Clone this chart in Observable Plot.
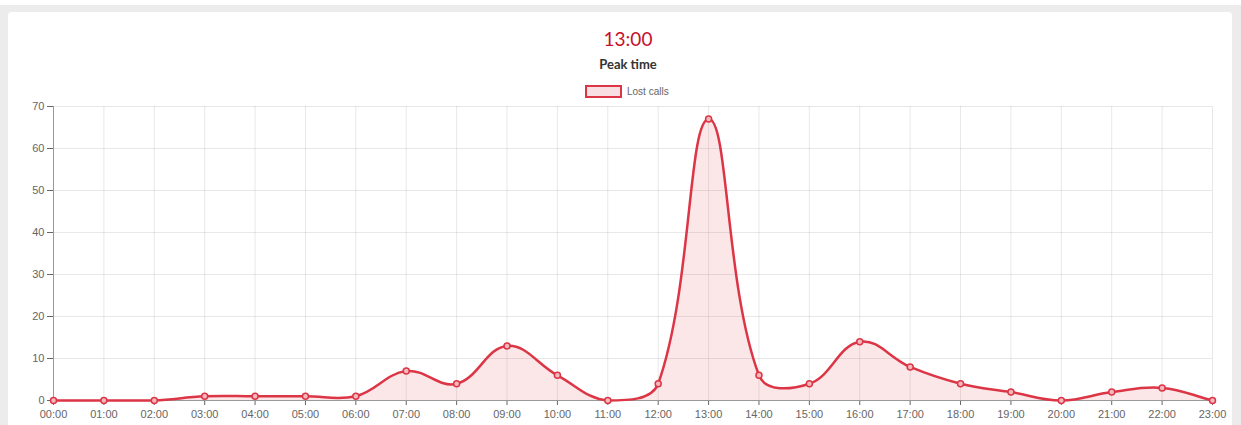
<!DOCTYPE html>
<html>
<head>
<meta charset="utf-8">
<script src="https://cdn.jsdelivr.net/npm/d3@7"></script>
<script src="https://cdn.jsdelivr.net/npm/@observablehq/plot@0.6"></script>
<style>
  html, body { margin: 0; padding: 0; background: #fff; width: 1241px; height: 425px; overflow: hidden; }
  #bg { position: absolute; left: 0; top: 5px; width: 1241px; height: 420px; background: #ececec; }
  #card { position: absolute; left: 8px; top: 12px; width: 1224px; height: 413px; background: #fff; border-radius: 4px 4px 0 0; }
  .t { position: absolute; left: 0; width: 1256px; text-align: center; font-family: Lato, "Open Sans", sans-serif; }
  #title { top: 27px; font-size: 19px; color: #c8102e; }
  #sub { top: 56px; font-size: 13px; font-weight: bold; color: #333; }
  #legend { position: absolute; top: 85px; left: 585px; font-family: Arial, "Liberation Sans", sans-serif; font-size: 10px; color: #666; display: flex; align-items: center; }
  #legend .sw { width: 33px; height: 9px; border: 2px solid #dc3545; background: #f8dfe1; margin-right: 5px; }
  #chart { position: absolute; left: 0; top: 95px; }
</style>
</head>
<body>
<div id="bg"></div>
<div id="card"></div>
<div class="t" id="title">13:00</div>
<div class="t" id="sub">Peak time</div>
<div id="legend"><div class="sw"></div><span>Lost calls</span></div>
<div id="chart"></div>
<script>
const hours = ["00:00","01:00","02:00","03:00","04:00","05:00","06:00","07:00","08:00","09:00","10:00","11:00","12:00","13:00","14:00","15:00","16:00","17:00","18:00","19:00","20:00","21:00","22:00","23:00"];
const lostCalls = [0,0,0,1,1,1,1,7,4,13,6,0,4,67,6,4,14,8,4,2,0,2,3,0];
const yTicks = [0,10,20,30,40,50,60,70];

const data = hours.map((h, i) => ({i, h, v: lostCalls[i]}));
const lineColor = "#dc3545";

const W = 1241, H = 330, mL = 53, mR = 29, mT = 11, mB = 25;

// Chart.js-style spline (tension 0.4) with control points capped to the plot area
function splineCurve(tension, bounds) {
  return function(context) {
    let pts = [], line = NaN;
    const clamp = (v, a, b) => Math.max(a, Math.min(b, v));
    return {
      areaStart() { line = 0; },
      areaEnd() { line = NaN; },
      lineStart() { pts = []; },
      point(x, y) { pts.push([+x, +y]); },
      lineEnd() {
        const n = pts.length;
        if (n) {
          if (line) context.lineTo(pts[0][0], pts[0][1]); else context.moveTo(pts[0][0], pts[0][1]);
          const cps = pts.map((cur, i) => {
            const prev = pts[Math.max(i - 1, 0)], next = pts[Math.min(i + 1, n - 1)];
            const d01 = Math.hypot(cur[0] - prev[0], cur[1] - prev[1]);
            const d12 = Math.hypot(next[0] - cur[0], next[1] - cur[1]);
            let s01 = d01 / (d01 + d12), s12 = d12 / (d01 + d12);
            if (!isFinite(s01)) s01 = 0;
            if (!isFinite(s12)) s12 = 0;
            const fa = tension * s01, fb = tension * s12;
            return {
              px: clamp(cur[0] - fa * (next[0] - prev[0]), bounds.left, bounds.right),
              py: clamp(cur[1] - fa * (next[1] - prev[1]), bounds.top, bounds.bottom),
              nx: clamp(cur[0] + fb * (next[0] - prev[0]), bounds.left, bounds.right),
              ny: clamp(cur[1] + fb * (next[1] - prev[1]), bounds.top, bounds.bottom)
            };
          });
          for (let i = 1; i < n; ++i) {
            context.bezierCurveTo(cps[i - 1].nx, cps[i - 1].ny, cps[i].px, cps[i].py, pts[i][0], pts[i][1]);
          }
        }
        if (line || (line !== 0 && n === 1)) context.closePath();
        line = 1 - line;
      }
    };
  };
}
const curve = splineCurve(0.4, {left: mL, right: W - mR, top: mT, bottom: H - mB});

const chart = Plot.plot({
  width: W,
  height: H,
  marginLeft: mL,
  marginRight: mR,
  marginTop: mT,
  marginBottom: mB,
  style: {background: "transparent", fontFamily: "Arial, 'Liberation Sans', sans-serif", fontSize: "11px", color: "#666"},
  x: {domain: [0, hours.length - 1], ticks: d3.range(hours.length), tickFormat: i => hours[i], tickSize: 5, tickPadding: 5, label: null},
  y: {domain: [0, 70], ticks: yTicks, tickSize: 6, tickPadding: 3, label: null},
  marks: [
    Plot.gridX(d3.range(hours.length), {stroke: "#000", strokeOpacity: 0.09}),
    Plot.gridY(yTicks, {stroke: "#000", strokeOpacity: 0.09}),
    Plot.areaY(data, {x: "i", y: "v", curve, fill: lineColor, fillOpacity: 0.12}),
    Plot.ruleX([0], {stroke: "#999"}),
    Plot.ruleY([0], {stroke: "#999"}),
    Plot.lineY(data, {x: "i", y: "v", curve, stroke: lineColor, strokeWidth: 2.5}),
    Plot.dot(data, {x: "i", y: "v", r: 3, stroke: lineColor, strokeWidth: 1.5, fill: "#f3b9be"})
  ]
});
document.getElementById("chart").appendChild(chart);
</script>
</body>
</html>
